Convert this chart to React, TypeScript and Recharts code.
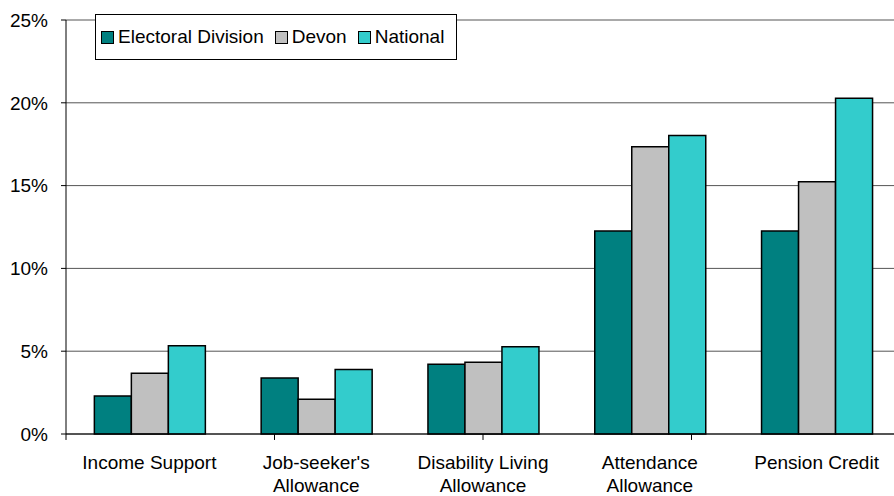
import { Bar, BarChart, CartesianGrid, Legend, ReferenceLine, XAxis, YAxis } from "recharts";

const categories = [
  "Income Support",
  "Job-seeker's\nAllowance",
  "Disability Living\nAllowance",
  "Attendance\nAllowance",
  "Pension Credit",
];
const electoralDivision = [2.3, 3.38, 4.21, 12.26, 12.26];
const devon = [3.67, 2.1, 4.33, 17.35, 15.24];
const national = [5.33, 3.9, 5.27, 18.02, 20.27];
const yTicks = [0, 5, 10, 15, 20, 25];
const edgeTicks = [0, 1, 2, 3, 4, 5];

const series = [
  { key: "ed", name: "Electoral Division", color: "#008080" },
  { key: "devon", name: "Devon", color: "#C0C0C0" },
  { key: "national", name: "National", color: "#33CCCC" },
];

const data = categories.map((c, i) => ({
  category: c,
  ed: electoralDivision[i],
  devon: devon[i],
  national: national[i],
}));

const FONT = "'Liberation Sans', Arial, sans-serif";

function CategoryTick(props: any) {
  const { x, y, payload } = props;
  const lines = String(payload.value).split("\n");
  return (
    <text x={x} y={y} textAnchor="middle" fill="#000" fontSize={19} fontFamily={FONT}>
      {lines.map((line, i) => (
        <tspan key={i} x={x} dy={i === 0 ? 33 : 23}>
          {line}
        </tspan>
      ))}
    </text>
  );
}

function LegendBox() {
  return (
    <div
      style={{
        display: "flex",
        alignItems: "center",
        background: "#fff",
        border: "1px solid #000",
        width: 362,
        height: 46,
        boxSizing: "border-box",
        paddingLeft: 5,
        fontFamily: FONT,
        fontSize: 19,
        color: "#000",
        whiteSpace: "nowrap",
      }}
    >
      {series.map((s) => (
        <span key={s.key} style={{ display: "flex", alignItems: "center", marginRight: 11 }}>
          <span
            style={{
              display: "inline-block",
              width: 11,
              height: 11,
              background: s.color,
              border: "1.5px solid #000",
              marginRight: 4,
            }}
          />
          {s.name}
        </span>
      ))}
    </div>
  );
}

export default function App() {
  return (
    <div
      style={{
        position: "fixed",
        left: 0,
        top: 0,
        width: 894,
        height: 496,
        overflow: "hidden",
        background: "#fff",
      }}
    >
      <BarChart
        width={902}
        height={496}
        data={data}
        margin={{ top: 20, right: 2, bottom: 0, left: 0 }}
        barCategoryGap="17%"
        barGap={0}
      >
        <CartesianGrid vertical={false} stroke="#555" />
        <XAxis
          xAxisId="cat"
          dataKey="category"
          height={62}
          axisLine={{ stroke: "#000" }}
          tickLine={false}
          tickSize={0}
          tick={<CategoryTick />}
          interval={0}
        />
        <XAxis xAxisId="edges" type="number" domain={[0, 5]} hide />
        <YAxis
          domain={[0, 25]}
          ticks={yTicks}
          width={66}
          axisLine={{ stroke: "#000" }}
          tickLine={{ stroke: "#000" }}
          tickSize={5}
          tickMargin={13}
          tickFormatter={(v: number) => `${v}%`}
          tick={{ fill: "#000", fontSize: 19, fontFamily: FONT }}
        />
        {edgeTicks.map((t) => (
          <ReferenceLine
            key={t}
            xAxisId="edges"
            segment={[
              { x: t, y: 0 },
              { x: t, y: -0.36 },
            ]}
            ifOverflow="visible"
            stroke="#000"
          />
        ))}
        <Legend
          layout="horizontal"
          verticalAlign="middle"
          align="center"
          content={() => <LegendBox />}
          wrapperStyle={{ position: "absolute", left: 95, top: 14, width: "auto" }}
        />
        {series.map((s) => (
          <Bar
            key={s.key}
            xAxisId="cat"
            dataKey={s.key}
            name={s.name}
            fill={s.color}
            stroke="#000"
            strokeWidth={1.5}
            isAnimationActive={false}
          />
        ))}
      </BarChart>
    </div>
  );
}
